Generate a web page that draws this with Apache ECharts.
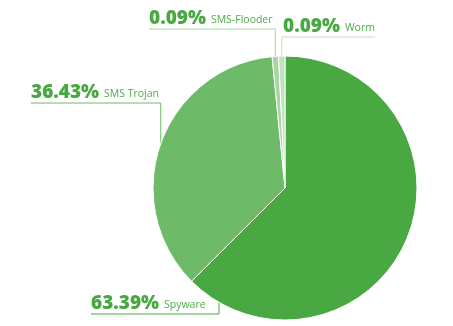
<!DOCTYPE html>
<html>
<head>
<meta charset="utf-8">
<script src="https://cdn.jsdelivr.net/npm/echarts@6/dist/echarts.min.js"></script>
<style>
html,body{margin:0;padding:0;background:#fff;}
#c{width:453px;height:326px;}
</style>
</head>
<body>
<div id="c"></div>
<script>
const categories = ['Spyware', 'SMS Trojan', 'SMS-Flooder', 'Worm'];
const values = [63.39, 36.43, 0.09, 0.09];
const colors = ['#4aa842', '#6dbb68', '#a9d5a3', '#c2e2bd'];

// label layout (positions only)
const CX = 285, CY = 188, R = 132;
const labelLayoutCfg = [
  { x: 91, lineY: 314, side: 'left', anchorAngle: 210 },
  { x: 31, lineY: 103, side: 'left' },
  { x: 149, lineY: 29, side: 'left' },
  { x: 283, lineY: 37, side: 'right' }
];

const chart = echarts.init(document.getElementById('c'), null, { renderer: 'canvas' });

const data = categories.map((name, i) => ({
  name: name,
  value: values[i],
  itemStyle: { color: colors[i] },
  labelLine: { lineStyle: { color: colors[i] } }
}));

chart.setOption({
  animation: false,
  backgroundColor: '#ffffff',
  series: [{
    type: 'pie',
    center: [CX, CY],
    radius: [0, R],
    startAngle: 90,
    clockwise: true,
    minAngle: 2.8,
    avoidLabelOverlap: false,
    itemStyle: { borderColor: '#ffffff', borderWidth: 1 },
    data: data,
    label: {
      show: true,
      position: 'outside',
      formatter: function (p) {
        return '{p|' + p.value.toFixed(2) + '%}{n|' + p.name + '}';
      },
      rich: {
        p: {
          fontFamily: 'Open Sans',
          fontWeight: 800,
          fontSize: 19,
          lineHeight: 19,
          color: '#4aa842',
          verticalAlign: 'bottom'
        },
        n: {
          fontFamily: 'Open Sans',
          fontSize: 10.5,
          lineHeight: 10.5,
          color: '#4fab47',
          verticalAlign: 'bottom',
          padding: [0, 0, 2, 5]
        }
      }
    },
    labelLine: {
      show: true,
      length: 10,
      length2: 10,
      lineStyle: { width: 1 }
    },
    labelLayout: function (params) {
      const cfg = labelLayoutCfg[params.dataIndex];
      let start;
      if (cfg.anchorAngle !== undefined) {
        const a = cfg.anchorAngle * Math.PI / 180;
        start = [CX + R * Math.sin(a), CY - R * Math.cos(a)];
      } else if (params.labelLinePoints && params.labelLinePoints[0]) {
        start = params.labelLinePoints[0];
      } else {
        start = [CX, CY - R];
      }
      const w = params.labelRect.width;
      const endX = cfg.side === 'left' ? cfg.x : cfg.x + w;
      return {
        x: cfg.x,
        y: cfg.lineY - 1,
        align: 'left',
        verticalAlign: 'bottom',
        labelLinePoints: [
          [start[0], start[1]],
          [start[0], cfg.lineY],
          [endX, cfg.lineY]
        ]
      };
    }
  }]
});
</script>
</body>
</html>
